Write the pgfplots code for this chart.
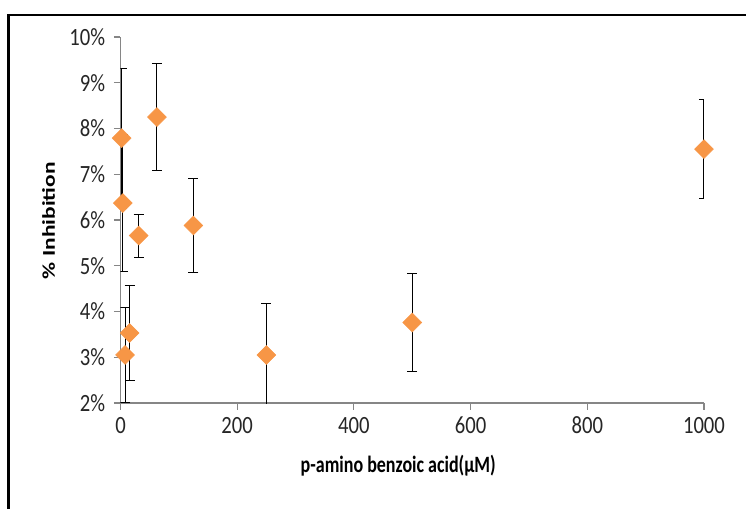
\documentclass[border=0pt]{standalone}
\usepackage{pgfplots}
\pgfplotsset{compat=1.18}
\usepackage{fontspec}
\setmainfont{Carlito}
\definecolor{excelorange}{HTML}{F79646}
\definecolor{axisgray}{HTML}{868686}

% concentration (uM), inhibition (%), error (%)
\pgfplotstableread{
x      y     e
1.95   7.79  1.53
3.9    6.37  1.50
7.8    3.05  1.03
15.6   3.53  1.04
31.25  5.66  0.47
62.5   8.25  1.16
125    5.88  1.03
250    3.05  1.12
500    3.76  1.07
1000   7.55  1.08
}\datatable

\begin{document}
\begin{tikzpicture}
\begin{axis}[
  scale only axis,
  width=437.6pt, height=274.5pt,
  xmin=0, xmax=1000, ymin=2, ymax=10,
  xtick={0,200,...,1000}, ytick={2,3,...,10},
  yticklabel={\pgfmathprintnumber{\tick}\%},
  axis lines=left,
  axis line style={-, draw=axisgray, line width=0.8pt},
  tick style={draw=axisgray, line width=0.8pt},
  tick align=outside,
  major tick length=5pt,
  /pgf/number format/assume math mode=true,
  /pgf/number format/1000 sep={},
  ticklabel style={font=\fontsize{15.5}{18}\selectfont, text=black!85, yscale=1.2},
  yticklabel style={xshift=-3pt},
  xticklabel style={yshift=-1pt},
  xlabel={p-amino benzoic acid(µM)},
  ylabel={\% Inhibition},
  label style={font=\fontsize{13.5}{16}\selectfont\bfseries},
  xlabel style={at={(rel axis cs:0.476,0)}, anchor=center, yshift=-47pt, yscale=1.3},
  ylabel style={at={(rel axis cs:0,0.498)}, anchor=center, yshift=54pt, xscale=1.3},
  clip=true,
]
\addplot[
  only marks,
  mark=square*,
  mark size=5pt,
  mark options={rotate=45, fill=excelorange, draw=excelorange},
  error bars/.cd,
    y dir=both, y explicit,
    error bar style={black, line width=0.75pt},
    error mark options={rotate=90, mark size=3.75pt, black, line width=0.75pt},
] table[x=x, y=y, y error=e] {\datatable};
\end{axis}
\pgfresetboundingbox
\useasboundingbox (-90.375pt,-78.75pt) rectangle (469.125pt,302.25pt);
\draw[line width=2.2pt, black] (-84pt,-120pt) -- (-84pt,291pt) -- (520pt,291pt);
\end{tikzpicture}
\end{document}
